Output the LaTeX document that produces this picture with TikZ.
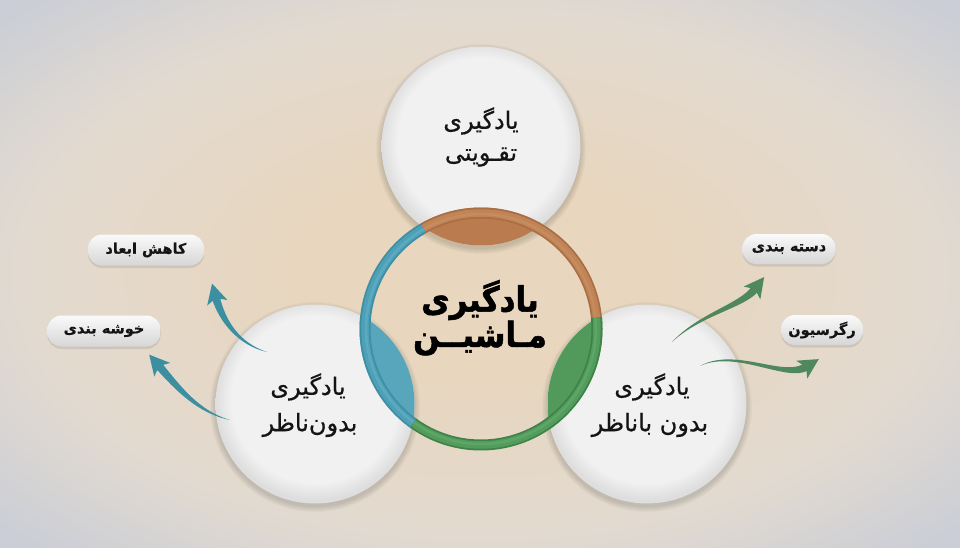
\documentclass[tikz,border=0pt]{standalone}
\usepackage{fontspec}
\usetikzlibrary{calc,shadows}
\TeXXeTstate=1
\newfontfamily\fa[Script=Arabic,FakeBold=0.6]{DejaVu Sans}
\newfontfamily\fab[Script=Arabic,FakeBold=1.6]{DejaVu Sans Bold}
\newfontfamily\fpill[Script=Arabic,FakeBold=0.5]{DejaVu Sans Bold}
\definecolor{bgin}{RGB}{232,214,190}
\definecolor{bgmid}{RGB}{226,218,208}
\definecolor{bgout}{RGB}{203,206,214}
\definecolor{cw1}{RGB}{241,241,241}
\definecolor{cw2}{RGB}{222,222,222}
\definecolor{brnF}{RGB}{186,124,78}
\definecolor{brnD}{RGB}{170,110,68}
\definecolor{brnM}{RGB}{192,132,86}
\definecolor{brnL}{RGB}{208,156,114}
\definecolor{teaF}{RGB}{88,166,187}
\definecolor{teaD}{RGB}{62,142,164}
\definecolor{teaM}{RGB}{78,160,182}
\definecolor{teaL}{RGB}{120,190,208}
\definecolor{grnF}{RGB}{82,154,92}
\definecolor{grnD}{RGB}{62,130,72}
\definecolor{grnM}{RGB}{82,156,92}
\definecolor{grnL}{RGB}{120,184,128}
\definecolor{arT}{RGB}{60,143,160}
\definecolor{arG}{RGB}{80,136,94}
\definecolor{txt}{RGB}{20,20,20}
\pgfdeclareradialshading{bgshade}{\pgfpoint{0bp}{0bp}}{color(0bp)=(bgin); color(9bp)=(bgin); color(24bp)=(bgmid); color(34bp)=(bgout); color(50bp)=(bgout)}
\pgfdeclareradialshading{discshade}{\pgfpoint{0bp}{2bp}}{color(0bp)=(cw1); color(21bp)=(cw1); color(25bp)=(cw2); color(50bp)=(cw2)}
\newcommand\ringseg[5]{%
  \draw[line width=11pt,#3] ($(C)+(#1:116)$) arc[start angle=#1,end angle=#2,radius=116];
  \draw[line width=7.5pt,#4] ($(C)+(#1:116)$) arc[start angle=#1,end angle=#2,radius=116];
  \draw[line width=2.5pt,#5,opacity=.35] ($(C)+(#1:115)$) arc[start angle=#1,end angle=#2,radius=115];
}
\newcommand\tarrow[6]{%
  \fill[#5] (#1) .. controls ($(#2)!1.5pt!90:(#1)$) and ($(#3)!3.2pt!-90:(#4)$) .. ($(#4)!4pt!90:(#3)$)
     -- ($(#4)!4pt!-90:(#3)$) .. controls ($(#3)!3.2pt!90:(#4)$) and ($(#2)!1.5pt!-90:(#1)$) .. (#1) -- cycle;
  \coordinate (hb) at ($(#4)!5pt!(#3)$);
  \coordinate (ht) at ($(#4)!-#6!(#3)$);
  \coordinate (h1) at ($(hb)!10.5pt!90:(#3)$);
  \coordinate (h2) at ($(hb)!10.5pt!-90:(#3)$);
  \fill[#5] (ht) -- (h1) -- (#4) -- (h2) -- cycle;
}
\begin{document}
\begin{tikzpicture}[x=1pt,y=-1pt,
  bigdisc/.style={circle,inner sep=0pt,minimum size=199pt,shading=discshade},
  pillbox/.style={rectangle,rounded corners=14pt,inner sep=0pt,top color=white!98!black,bottom color=white!84!black,
     drop shadow={opacity=.22,shadow xshift=0pt,shadow yshift=-2.5pt},font=\fpill\fontsize{14.5}{16}\selectfont,text=txt},
  ctext/.style={font=\fa\fontsize{24}{28}\selectfont,text=txt},
  mtext/.style={font=\fab\fontsize{31}{34}\selectfont,text=black,yscale=1.12,transform shape}]
\useasboundingbox (0,0) rectangle (960,548);
\shade[shading=bgshade] (0,0) rectangle (960,548);
% soft shadows of the discs
\foreach \px/\py in {481/146,315/404,647/404}{
  \foreach \k in {1,...,6}{\fill[black,opacity=0.025] (\px,\py+3) circle (99+\k);}
}
\node[bigdisc] (tc) at (481,146) {};
\node[bigdisc] (lc) at (315,404) {};
\node[bigdisc] (rc) at (647,404) {};
\coordinate (C) at (481,329);
% lenses
\begin{scope}\clip (481,146) circle (99.5); \fill[brnF] (C) circle (121.5);\end{scope}
\begin{scope}\clip (315,404) circle (99.5); \fill[teaF] (C) circle (121.5);\end{scope}
\begin{scope}\clip (647,404) circle (99.5); \fill[grnF] (C) circle (121.5);\end{scope}
% ring
\ringseg{-5.6}{-119.9}{brnD}{brnM}{brnL}
\ringseg{-119.9}{-234.3}{teaD}{teaM}{teaL}
\ringseg{-234.3}{-365.6}{grnD}{grnM}{grnL}
% arrows
\coordinate (a1s) at (267,352); \coordinate (a1c) at (238,344); \coordinate (a1d) at (222,320); \coordinate (a1e) at (216,298);
\coordinate (a2s) at (230,420); \coordinate (a2c) at (198,412); \coordinate (a2d) at (178,388); \coordinate (a2e) at (159,366);
\coordinate (a3s) at (672,342); \coordinate (a3c) at (700,314); \coordinate (a3d) at (742,306); \coordinate (a3e) at (755,289);
\coordinate (a4s) at (700,366); \coordinate (a4c) at (735,348); \coordinate (a4d) at (785,380); \coordinate (a4e) at (806,367);
\tarrow{a1s}{a1c}{a1d}{a1e}{arT}{15pt}
\tarrow{a2s}{a2c}{a2d}{a2e}{arT}{15pt}
\tarrow{a3s}{a3c}{a3d}{a3e}{arG}{15pt}
\tarrow{a4s}{a4c}{a4d}{a4e}{arG}{15pt}
% boxes
\node[pillbox,minimum width=116pt,minimum height=31pt] (b1) at (146,250) {\beginR کاهش ابعاد\endR};
\node[pillbox,minimum width=113pt,minimum height=31pt] (b2) at (104,331) {\beginR خوشه بندی\endR};
\node[pillbox,minimum width=93pt,minimum height=30pt] (b3) at (789,249) {\beginR دسته بندی\endR};
\node[pillbox,minimum width=82pt,minimum height=30pt] (b4) at (822,330) {\beginR رگرسیون\endR};
% texts
\node[ctext] (t1a) at (481,121) {\beginR یادگیری\endR};
\node[ctext] (t1b) at (481,157) {\beginR تقـویتی\endR};
\node[ctext] (t2a) at (308,387) {\beginR یادگیری\endR};
\node[ctext] (t2b) at (310,425) {\beginR بدون^^^^200cناظر\endR};
\node[ctext] (t3a) at (652,387) {\beginR یادگیری\endR};
\node[ctext] (t3b) at (650,425) {\beginR بدون باناظر\endR};
\node[mtext] (m1) at (480,300) {\beginR یادگیری\endR};
\node[mtext] (m2) at (480,338) {\beginR مـاشیــن\endR};
\end{tikzpicture}
\end{document}
